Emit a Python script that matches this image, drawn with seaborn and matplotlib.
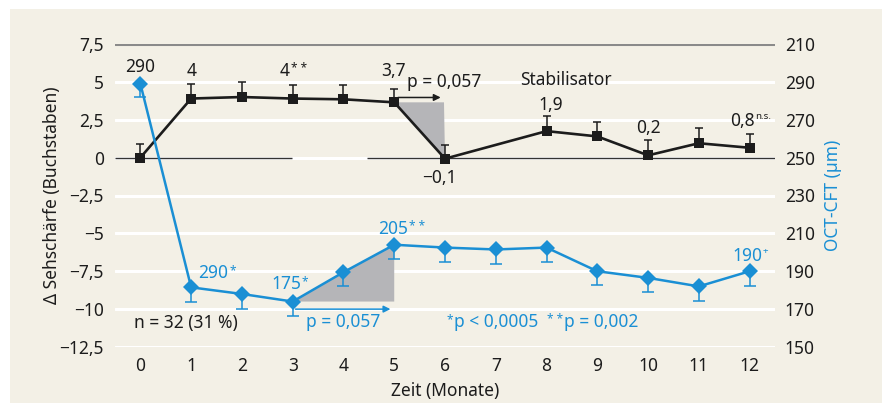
import numpy as np
import matplotlib
matplotlib.use("Agg")
import matplotlib.pyplot as plt
import seaborn as sns
from matplotlib.patches import Rectangle, Polygon

# --- data ---
months = [0, 1, 2, 3, 4, 5, 6, 7, 8, 9, 10, 11, 12]

# visual acuity change (letters), no value at month 7
va_months = [0, 1, 2, 3, 4, 5, 6, 8, 9, 10, 11, 12]
va_mean = [0.0, 3.9, 4.0, 3.9, 3.85, 3.65, -0.07, 1.75, 1.4, 0.15, 0.95, 0.65]
va_err = [0.9, 0.93, 1.0, 0.9, 0.95, 0.9, 0.9, 1.0, 0.93, 1.0, 1.0, 0.93]

# OCT central foveal thickness (µm)
cft_mean = [289, 181.5, 178, 174, 189.5, 204, 202.5, 201.5, 202.5, 190, 186.5, 182, 190]
cft_err = [7.0, 7.5, 8.0, 7.5, 7.5, 7.5, 7.5, 7.5, 7.5, 7.5, 7.5, 7.5, 8.0]

left_ticks = [-12.5, -10, -7.5, -5, -2.5, 0, 2.5, 5, 7.5]
left_labels = ["−12,5", "−10", "−7,5", "−5", "−2,5", "0", "2,5", "5", "7,5"]
right_ticks = [150, 170, 190, 210, 230, 250, 270, 290, 310]
right_labels = ["150", "170", "190", "210", "230", "250", "270", "290", "210"]

BLACK = "#1c1c1c"
BLUE = "#1a8fd4"
BEIGE = "#f3f0e6"
GREY_FILL = "#b5b5b8"
FS = 12.5
SUP = 8.5

sns.set_style("white")
plt.rcParams["font.family"] = ["Noto Sans", "DejaVu Sans"]

fig = plt.figure(figsize=(8.82, 4.03), dpi=100)
fig.patch.set_facecolor("white")
fig.patches.append(Rectangle((10 / 882, 0), 1, 1 - 9 / 403, transform=fig.transFigure,
                             facecolor=BEIGE, edgecolor="none", zorder=-1))

ax = fig.add_axes([115 / 882, 1 - 347 / 403, 660 / 882, 303 / 403])
ax.set_facecolor("none")
ax.set_xlim(-0.5, 12.5)
ax.set_ylim(-12.5, 7.5)
for s in ax.spines.values():
    s.set_visible(False)

# grid lines
for t in left_ticks[:-1]:
    ax.axhline(t, color="white", lw=2.2, zorder=0.5)
ax.axhline(7.5, color="#8a8a8a", lw=2.2, zorder=0.6)
ax.hlines(0, -0.5, 2.99, color="#333333", lw=1.0, zorder=0.7)
ax.hlines(0, 4.47, 12.5, color="#333333", lw=1.0, zorder=0.7)

ax.set_xticks(months)
ax.set_xticklabels([str(m) for m in months], fontsize=FS, color=BLACK)
ax.set_yticks(left_ticks)
ax.set_yticklabels(left_labels, fontsize=FS, color=BLACK)
ax.tick_params(axis="y", length=0, pad=8)
ax.tick_params(axis="x", length=0, pad=7.5)
ax.set_xlabel("Zeit (Monate)", fontsize=FS, color=BLACK, labelpad=5)
ax.set_ylabel("Δ Sehschärfe (Buchstaben)", fontsize=FS, color=BLACK)
ax.yaxis.set_label_coords(-0.082, 0.5)

# grey triangle under drop 5 -> 6
ax.add_patch(Polygon([(5, va_mean[5]), (5.98, va_mean[5]), (6, va_mean[6])],
                     closed=True, facecolor=GREY_FILL, edgecolor="none", zorder=1))

sns.lineplot(x=va_months, y=va_mean, ax=ax, color=BLACK, lw=1.9, marker="s",
             markersize=7, markeredgewidth=0, zorder=3)
ax.errorbar(va_months, va_mean, yerr=[np.zeros(len(va_err)), va_err], fmt="none",
            ecolor=BLACK, elinewidth=1.1, capsize=3, capthick=1.1, zorder=2)


def sup_text(axis, x, y, main, sup, color, sup_size=SUP):
    t = axis.text(x, y, main, ha="center", va="center", fontsize=FS, color=color, zorder=5)
    axis.annotate(sup, xy=(1, 1), xycoords=t, xytext=(0.5, 0), textcoords="offset points",
                  ha="left", va="top", fontsize=sup_size, color=color, zorder=5)
    return t


ax.text(0, 6.0, "290", ha="center", va="center", fontsize=FS, color=BLACK)
ax.text(1, 5.7, "4", ha="center", va="center", fontsize=FS, color=BLACK)
sup_text(ax, 2.85, 5.7, "4", "* *", BLACK)
ax.text(4.98, 5.7, "3,7", ha="center", va="center", fontsize=FS, color=BLACK)
ax.text(5.98, 5.0, "p = 0,057", ha="center", va="center", fontsize=FS, color=BLACK)
ax.annotate("", xy=(5.97, 3.97), xytext=(5.02, 3.97),
            arrowprops=dict(arrowstyle="-|>", color=BLACK, lw=1.1, mutation_scale=10))
ax.text(8.39, 5.1, "Stabilisator", ha="center", va="center", fontsize=FS, color=BLACK)
ax.text(8.08, 3.5, "1,9", ha="center", va="center", fontsize=FS, color=BLACK)
ax.text(5.89, -1.32, "−0,1", ha="center", va="center", fontsize=FS, color=BLACK)
ax.text(10.0, 1.98, "0,2", ha="center", va="center", fontsize=FS, color=BLACK)
sup_text(ax, 11.86, 2.45, "0,8", "n.s.", BLACK, sup_size=7)
ax.text(0.89, -10.9, "n = 32 (31 %)", ha="center", va="center", fontsize=FS, color=BLACK)

# --- right axis: OCT-CFT ---
ax2 = ax.twinx()
ax2.set_ylim(150, 310)
for s in ax2.spines.values():
    s.set_visible(False)
ax2.set_yticks(right_ticks)
ax2.set_yticklabels(right_labels, fontsize=FS, color=BLACK)
ax2.tick_params(axis="y", length=0, pad=7)
ax2.set_ylabel("OCT-CFT (µm)", fontsize=FS, color=BLUE)
ax2.yaxis.set_label_coords(1.075, 0.5)

ax2.add_patch(Polygon([(3, cft_mean[3]), (4, cft_mean[4]), (5, cft_mean[5]), (5, cft_mean[3])],
                      closed=True, facecolor=GREY_FILL, edgecolor="none", zorder=1))
ax2.errorbar(months, cft_mean, yerr=[cft_err, np.zeros(len(cft_err))], fmt="none",
             ecolor=BLUE, elinewidth=1.1, capsize=4, capthick=1.1, zorder=2)
sns.lineplot(x=months, y=cft_mean, ax=ax2, color=BLUE, lw=1.8, marker="D",
             markersize=8, markeredgewidth=0, zorder=3)
ax2.set_xlabel("")

sup_text(ax2, 1.44, 189.2, "290", "*", BLUE)
sup_text(ax2, 2.87, 183.4, "175", "*", BLUE)
sup_text(ax2, 4.98, 212.4, "205", "* *", BLUE)
sup_text(ax2, 11.95, 198.2, "190", "+", BLUE, sup_size=7)
ax2.annotate("", xy=(4.98, 170), xytext=(3.0, 170),
             arrowprops=dict(arrowstyle="-|>", color=BLUE, lw=1.1, mutation_scale=10))
ax2.text(4.0, 163.2, "p = 0,057", ha="center", va="center", fontsize=FS, color=BLUE)

p1 = ax2.text(6.18, 163.2, "p < 0,0005", ha="left", va="center", fontsize=FS, color=BLUE)
ax2.annotate("*", xy=(0, 1), xycoords=p1, xytext=(-0.5, 0), textcoords="offset points",
             ha="right", va="top", fontsize=SUP, color=BLUE)
p2 = ax2.text(8.35, 163.2, "p = 0,002", ha="left", va="center", fontsize=FS, color=BLUE)
ax2.annotate("* *", xy=(0, 1), xycoords=p2, xytext=(-0.5, 0), textcoords="offset points",
             ha="right", va="top", fontsize=SUP, color=BLUE)

fig.savefig("out.png", dpi=100)
